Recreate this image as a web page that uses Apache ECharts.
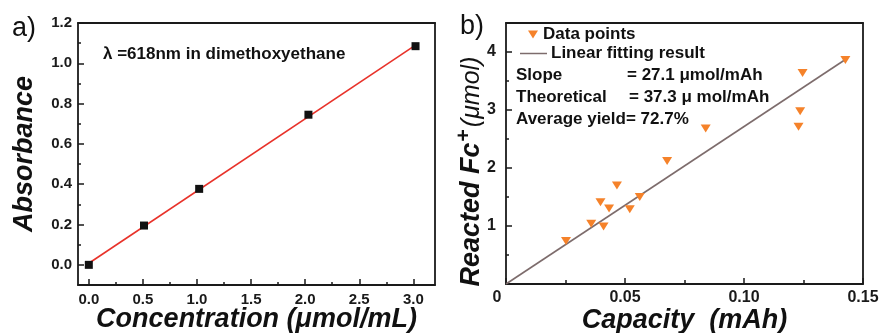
<!DOCTYPE html>
<html><head><meta charset="utf-8">
<script src="https://cdn.jsdelivr.net/npm/echarts@6/dist/echarts.min.js"></script>
<style>html,body{margin:0;padding:0;background:#fff}#c{width:881px;height:333px}</style>
</head><body><div id="c"></div>
<script>
// Panel a data
const concX = [0, 0.51, 1.02, 2.03, 3.02];
const absY = [0, 0.195, 0.377, 0.745, 1.085];
const fitAX = [0, 3.02];
const fitAY = [0.008, 1.09];
const aXTicks = [0, 0.5, 1.0, 1.5, 2.0, 2.5, 3.0];
const aXMinor = [0.25, 0.75, 1.25, 1.75, 2.25, 2.75];
const aYTicks = [0, 0.2, 0.4, 0.6, 0.8, 1.0, 1.2];
const aYMinor = [0.1, 0.3, 0.5, 0.7, 0.9, 1.1];
// Panel b data
const capX = [0.0252, 0.0358, 0.0397, 0.0410, 0.0433, 0.0466, 0.0520, 0.0562, 0.0677, 0.0839, 0.1229, 0.1236, 0.1246, 0.1426];
const fcY = [0.74, 1.04, 1.41, 0.99, 1.30, 1.70, 1.29, 1.50, 2.12, 2.68, 2.71, 2.98, 3.64, 3.86];
const fitBX = [0, 0.1426];
const fitBY = [0, 3.87];
const bXTicks = [0, 0.05, 0.10, 0.15];
const bXMinor = [0.025, 0.075, 0.125];
const bYTicks = [1, 2, 3, 4];
const bYMinor = [0.5, 1.5, 2.5, 3.5];

const FF = '"Liberation Sans", Arial, sans-serif';
const axisColor = '#1a1a1a';
const lineW = 1.8;

function labelStyle(size) {
  return {
    fontFamily: FF, fontWeight: 'bold', fontSize: size, color: '#1a1a1a',
    rich: {
      b: {fontFamily: FF, fontWeight: 'bold', fontSize: size, color: '#1a1a1a'},
      z: {fontFamily: FF, fontWeight: 'bold', fontSize: size, color: '#1a1a1a', padding: [0, 18, 0, 0]}
    }
  };
}
function majorAxis(extra) {
  return Object.assign({
    type: 'value',
    nameMoveOverlap: false,
    axisLine: {show: true, onZero: false, lineStyle: {color: axisColor, width: lineW}},
    splitLine: {show: false},
  }, extra);
}
function minorAxis(extra) {
  return Object.assign({
    type: 'value',
    axisLine: {show: false, onZero: false},
    splitLine: {show: false},
    axisLabel: {show: false},
  }, extra);
}
function frameAxis(extra) {
  return Object.assign({
    type: 'value',
    axisLine: {show: true, onZero: false, lineStyle: {color: axisColor, width: lineW}},
    axisTick: {show: false},
    axisLabel: {show: false},
    splitLine: {show: false},
  }, extra);
}
function tick(vals, len) {
  return {show: true, inside: true, length: len, customValues: vals, lineStyle: {color: axisColor, width: 1.5}};
}

const chart = echarts.init(document.getElementById('c'), null, {renderer: 'canvas'});
const option = {
  animation: false,
  backgroundColor: '#fff',
  grid: [
    {left: 78, top: 23, width: 357, height: 262, outerBoundsMode: 'none'},
    {left: 506, top: 23, width: 357, height: 261, outerBoundsMode: 'none'}
  ],
  xAxis: [
    majorAxis({gridIndex: 0, min: -0.1, max: 3.2, position: 'bottom',
      axisLabel: Object.assign({customValues: aXTicks, margin: 7, formatter: v => '{b|' + v.toFixed(1) + '}'}, labelStyle(15)),
      axisTick: tick(aXTicks, 6),
      name: 'Concentration (μmol/mL)', nameLocation: 'middle', nameGap: 21,
      nameTextStyle: {fontFamily: FF, fontWeight: 'bold', fontStyle: 'italic', fontSize: 27, color: '#111', verticalAlign: 'top'}}),
    minorAxis({gridIndex: 0, min: -0.1, max: 3.2, position: 'bottom', axisTick: tick(aXMinor, 3)}),
    frameAxis({gridIndex: 0, min: -0.1, max: 3.2, position: 'top'}),
    majorAxis({gridIndex: 1, min: 0, max: 0.15, position: 'bottom',
      axisLabel: Object.assign({customValues: bXTicks, margin: 6,
        formatter: v => v === 0 ? '{z|0}' : '{b|' + v.toFixed(2) + '}'}, labelStyle(16)),
      axisTick: tick(bXTicks, 6),
      name: 'Capacity  (mAh)', nameLocation: 'middle', nameGap: 23,
      nameTextStyle: {fontFamily: FF, fontWeight: 'bold', fontStyle: 'italic', fontSize: 27, color: '#111', verticalAlign: 'top'}}),
    minorAxis({gridIndex: 1, min: 0, max: 0.15, position: 'bottom', axisTick: tick(bXMinor, 4)}),
    frameAxis({gridIndex: 1, min: 0, max: 0.15, position: 'top'})
  ],
  yAxis: [
    majorAxis({gridIndex: 0, min: -0.1, max: 1.2, position: 'left',
      axisLabel: Object.assign({customValues: aYTicks, margin: 6, formatter: v => '{b|' + v.toFixed(1) + '}'}, labelStyle(15)),
      axisTick: tick(aYTicks, 6),
      name: 'Absorbance', nameLocation: 'middle', nameGap: 40,
      nameTextStyle: {fontFamily: FF, fontWeight: 'bold', fontStyle: 'italic', fontSize: 27, color: '#111'}}),
    minorAxis({gridIndex: 0, min: -0.1, max: 1.2, position: 'left', axisTick: tick(aYMinor, 3)}),
    frameAxis({gridIndex: 0, min: -0.1, max: 1.2, position: 'right'}),
    majorAxis({gridIndex: 1, min: 0, max: 4.5, position: 'left',
      axisLabel: Object.assign({customValues: bYTicks, margin: 10, formatter: v => '{b|' + v + '}'}, labelStyle(16)),
      axisTick: tick(bYTicks, 6),
      name: '{i|Reacted Fc}{sup|+}{p|(μmol)}', nameLocation: 'middle', nameGap: 16,
      nameTextStyle: {padding: [0, 36, 0, 0], rich: {
        i: {fontFamily: FF, fontWeight: 'bold', fontStyle: 'italic', fontSize: 27, color: '#111'},
        sup: {fontFamily: FF, fontWeight: 'bold', fontSize: 21, color: '#111', verticalAlign: 'top', padding: [0, 2, 15, 1]},
        p: {fontFamily: FF, fontStyle: 'italic', fontSize: 25, color: '#111'}
      }}}),
    minorAxis({gridIndex: 1, min: 0, max: 4.5, position: 'left', axisTick: tick(bYMinor, 3)}),
    frameAxis({gridIndex: 1, min: 0, max: 4.5, position: 'right'})
  ],
  legend: [
    {data: [{name: 'Data points'}], left: 528, top: 26, padding: 0, orient: 'vertical', itemWidth: 10, itemHeight: 8, itemGap: 4,
      textStyle: {fontFamily: FF, fontWeight: 'bold', fontSize: 17, color: '#111'}},
    {data: [{name: 'Linear fitting result', icon: 'rect'}], left: 520, top: 45, padding: 0, orient: 'vertical', itemWidth: 27, itemHeight: 1.5, itemGap: 4,
      textStyle: {fontFamily: FF, fontWeight: 'bold', fontSize: 17, color: '#111', padding: [0, 0, 0, -1]}}
  ],
  series: [
    {type: 'line', name: 'fitA', xAxisIndex: 0, yAxisIndex: 0, data: fitAX.map((x, i) => [x, fitAY[i]]),
      showSymbol: false, symbol: 'none', lineStyle: {color: '#e8322a', width: 1.6}, z: 3},
    {type: 'scatter', name: 'absorbance', xAxisIndex: 0, yAxisIndex: 0, data: concX.map((x, i) => [x, absY[i]]),
      symbol: 'rect', symbolSize: 8, itemStyle: {color: '#111', opacity: 1}, z: 4},
    {type: 'line', name: 'Linear fitting result', xAxisIndex: 3, yAxisIndex: 3, data: fitBX.map((x, i) => [x, fitBY[i]]),
      showSymbol: false, symbol: 'none', lineStyle: {color: '#7d6c6c', width: 1.6}, itemStyle: {color: '#7d6c6c'}, z: 3},
    {type: 'scatter', name: 'Data points', xAxisIndex: 3, yAxisIndex: 3, data: capX.map((x, i) => [x, fcY[i]]),
      symbol: 'path://M0,0 L10,0 L5,8 Z', symbolSize: [10, 8], itemStyle: {color: '#f5822a', opacity: 1}, z: 4}
  ],
  graphic: [
    {type: 'text', x: 12, y: 29, style: {text: 'a)', font: '27px ' + FF, fill: '#111', verticalAlign: 'middle'}},
    {type: 'text', x: 460, y: 27, style: {text: 'b)', font: '27px ' + FF, fill: '#111', verticalAlign: 'middle'}},
    {type: 'text', x: 103, y: 54, style: {text: 'λ =618nm in dimethoxyethane', font: 'bold 17px ' + FF, fill: '#111', verticalAlign: 'middle'}},
    {type: 'text', x: 516, y: 75, style: {text: 'Slope', font: 'bold 17px ' + FF, fill: '#111', verticalAlign: 'middle'}},
    {type: 'text', x: 627, y: 75, style: {text: '= 27.1 μmol/mAh', font: 'bold 17px ' + FF, fill: '#111', verticalAlign: 'middle'}},
    {type: 'text', x: 516, y: 97, style: {text: 'Theoretical', font: 'bold 17px ' + FF, fill: '#111', verticalAlign: 'middle'}},
    {type: 'text', x: 629, y: 97, style: {text: '= 37.3 μ mol/mAh', font: 'bold 17px ' + FF, fill: '#111', verticalAlign: 'middle'}},
    {type: 'text', x: 516, y: 119, style: {text: 'Average yield= 72.7%', font: 'bold 17px ' + FF, fill: '#111', verticalAlign: 'middle'}}
  ]
};
chart.setOption(option);
</script>
</body></html>
